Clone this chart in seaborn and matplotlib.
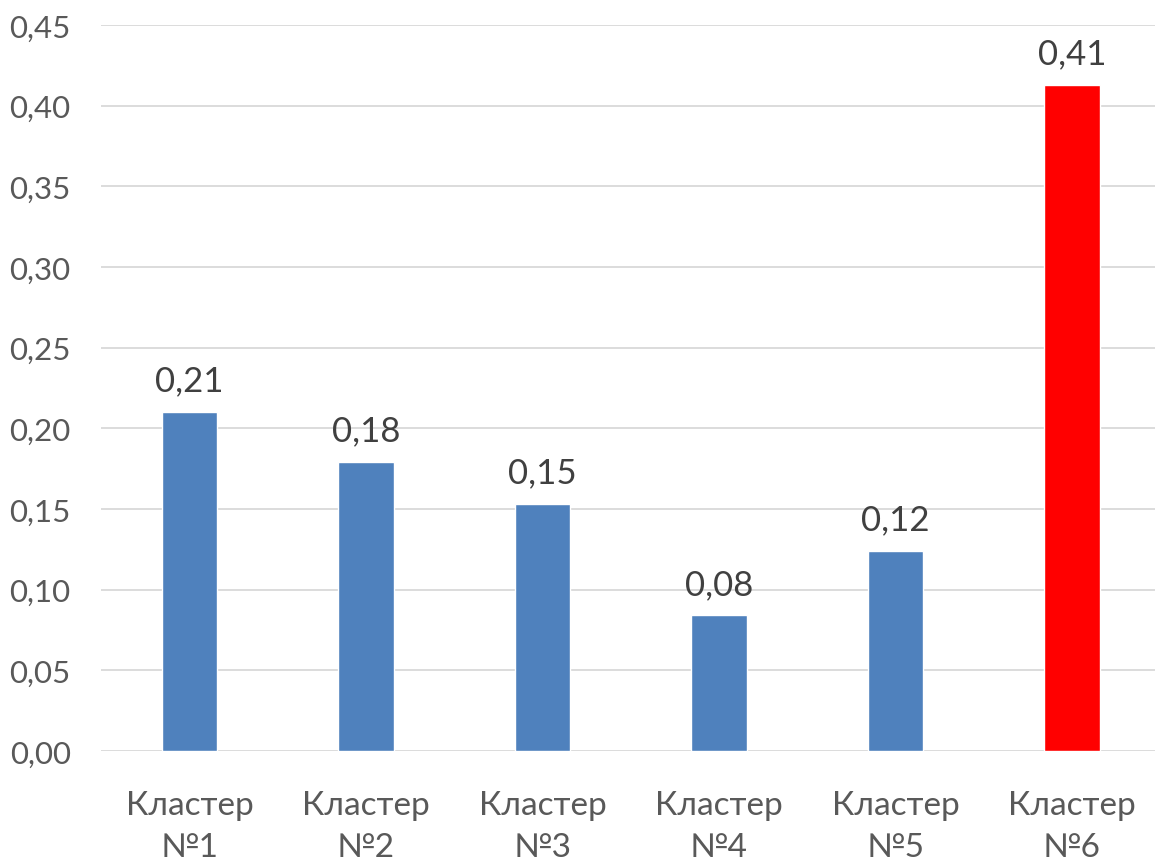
import matplotlib
matplotlib.use("Agg")
import matplotlib.pyplot as plt
import seaborn as sns
import pandas as pd

categories = ["Кластер\n№1", "Кластер\n№2", "Кластер\n№3", "Кластер\n№4", "Кластер\n№5", "Кластер\n№6"]
values = [0.210, 0.179, 0.153, 0.084, 0.124, 0.413]
bar_colors = ["#4f81bd", "#4f81bd", "#4f81bd", "#4f81bd", "#4f81bd", "#ff0000"]
yticks = [0.00, 0.05, 0.10, 0.15, 0.20, 0.25, 0.30, 0.35, 0.40, 0.45]

sns.set_theme(style="white")
plt.rcParams['font.family'] = ['Lato', 'Open Sans', 'DejaVu Sans']

df = pd.DataFrame({"cat": categories, "val": values})

fig = plt.figure(figsize=(11.55, 8.62), dpi=100)
ax = fig.add_axes([101.25/1155, 110/862, 1059/1155, (752-26)/862])

sns.barplot(data=df, x="cat", y="val", hue="cat", palette=bar_colors,
            legend=False, width=0.317, ax=ax, saturation=1)

ax.set_xlim(-0.5, 5.5)
ax.set_ylim(0, 0.45)
ax.set_yticks(yticks)
ax.set_yticklabels([f"{t:.2f}".replace(".", ",") for t in yticks])
ax.yaxis.grid(True, color="#d9d9d9", linewidth=1.3)
ax.set_axisbelow(True)
for s in ax.spines.values():
    s.set_visible(False)
ax.set_xlabel("")
ax.set_ylabel("")
ax.tick_params(axis="y", length=0, pad=22, labelsize=22.5, labelcolor="#595959")
ax.tick_params(axis="x", length=0, pad=28, labelsize=24, labelcolor="#595959")
for lab in ax.get_xticklabels():
    lab.set_linespacing(1.5)

for i, v in enumerate(values):
    ax.annotate(f"{v:.2f}".replace(".", ","), xy=(i, v), xytext=(0, 15.5),
                textcoords="offset points", ha="center", va="baseline",
                fontsize=25, color="#404040")

fig.savefig("out.png", dpi=100)
